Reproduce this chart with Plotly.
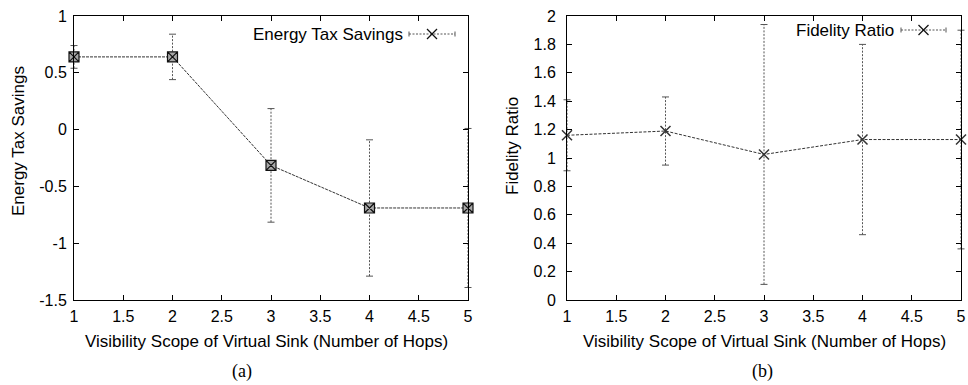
import plotly.graph_objects as go

# Visibility scope (hops) and measured results
hops = [1, 2, 3, 4, 5]

energy_savings = [0.64, 0.64, -0.315, -0.69, -0.69]
energy_err = [0.10, 0.20, 0.50, 0.60, 0.70]

fidelity_ratio = [1.16, 1.19, 1.025, 1.13, 1.13]
fidelity_err = [0.25, 0.24, 0.915, 0.67, 0.77]

x_ticks = [1, 1.5, 2, 2.5, 3, 3.5, 4, 4.5, 5]
x_ticktext = ["1", "1.5", "2", "2.5", "3", "3.5", "4", "4.5", "5"]
energy_ticks = [-1.5, -1, -0.5, 0, 0.5, 1]
energy_ticktext = ["-1.5", "-1", "-0.5", "0", "0.5", "1"]
fidelity_ticks = [0, 0.2, 0.4, 0.6, 0.8, 1, 1.2, 1.4, 1.6, 1.8, 2]
fidelity_ticktext = ["0", "0.2", "0.4", "0.6", "0.8", "1", "1.2", "1.4", "1.6", "1.8", "2"]

W, H = 968, 385
FONT = "Liberation Sans, Arial, sans-serif"
SERIF = "Liberation Serif, Times New Roman, serif"
LINE_COL = "#333333"
ERR_COL = "#555555"


def px(x):
    """Pixel x -> paper fraction."""
    return x / W


def py(y):
    """Pixel y (from top) -> paper fraction."""
    return 1 - y / H


def errbar_traces(xs, ys, errs, xa, ya):
    """Dashed vertical error bars with small end caps."""
    seg_x, seg_y, cap_x, cap_y = [], [], [], []
    for x, y, e in zip(xs, ys, errs):
        seg_x += [x, x, None]
        seg_y += [y - e, y + e, None]
        cap_x += [x, x]
        cap_y += [y - e, y + e]
    return [
        go.Scatter(x=seg_x, y=seg_y, mode="lines", xaxis=xa, yaxis=ya,
                   line=dict(color=ERR_COL, width=1, dash="2px,1.5px"),
                   cliponaxis=False, hoverinfo="skip", showlegend=False),
        go.Scatter(x=cap_x, y=cap_y, mode="markers", xaxis=xa, yaxis=ya,
                   marker=dict(symbol="line-ew", size=5,
                               line=dict(color=ERR_COL, width=1)),
                   cliponaxis=False, hoverinfo="skip", showlegend=False),
    ]


fig = go.Figure()

# (a) Energy tax savings
for t in errbar_traces(hops, energy_savings, energy_err, "x", "y"):
    fig.add_trace(t)
fig.add_trace(go.Scatter(
    x=hops, y=energy_savings, mode="lines+markers", xaxis="x", yaxis="y",
    line=dict(color=LINE_COL, width=1, dash="3px,1px"),
    marker=dict(symbol="square-x", size=10, color="#a8a8a8",
                line=dict(color="#111111", width=1.2)),
    cliponaxis=False, name="Energy Tax Savings", showlegend=False))

# (b) Fidelity ratio
for t in errbar_traces(hops, fidelity_ratio, fidelity_err, "x2", "y2"):
    fig.add_trace(t)
fig.add_trace(go.Scatter(
    x=hops, y=fidelity_ratio, mode="lines+markers", xaxis="x2", yaxis="y2",
    line=dict(color=LINE_COL, width=1, dash="3px,1.5px"),
    marker=dict(symbol="x-thin-open", size=10,
                line=dict(color="#111111", width=1.5)),
    cliponaxis=False, name="Fidelity Ratio", showlegend=False))

y_dom = [py(300), py(16)]
axis_common = dict(
    showline=True, linecolor="black", linewidth=1, mirror="allticks",
    ticks="inside", ticklen=5, tickwidth=1, tickcolor="black",
    showgrid=False, zeroline=False, automargin=False,
    tickfont=dict(family=FONT, size=16, color="black"),
)

fig.update_layout(
    width=W, height=H, autosize=False,
    margin=dict(l=0, r=0, t=0, b=0, pad=0, autoexpand=False),
    paper_bgcolor="white", plot_bgcolor="white",
    showlegend=False,
    xaxis=dict(domain=[px(74), px(468)], range=[1, 5], anchor="y",
               tickvals=x_ticks, ticktext=x_ticktext, ticklabelstandoff=2,
               **axis_common),
    yaxis=dict(domain=y_dom, range=[-1.5, 1], anchor="x",
               tickvals=energy_ticks, ticktext=energy_ticktext,
               ticklabelstandoff=3, **axis_common),
    xaxis2=dict(domain=[px(567), px(961)], range=[1, 5], anchor="y2",
                tickvals=x_ticks, ticktext=x_ticktext, ticklabelstandoff=2,
                **axis_common),
    yaxis2=dict(domain=y_dom, range=[0, 2], anchor="x2",
                tickvals=fidelity_ticks, ticktext=fidelity_ticktext,
                ticklabelstandoff=7, **axis_common),
)

annotations = []
shapes = []


def text(x, y, s, size=17, angle=0, xanchor="center", family=FONT):
    annotations.append(dict(
        x=px(x), y=py(y), xref="paper", yref="paper", text=s,
        showarrow=False, textangle=angle, xanchor=xanchor, yanchor="middle",
        font=dict(family=family, size=size, color="black")))


# Axis titles and panel captions
text(266, 341, "Visibility Scope of Virtual Sink (Number of Hops)")
text(764, 341, "Visibility Scope of Virtual Sink (Number of Hops)")
text(18, 141, "Energy Tax Savings", angle=-90)
text(512, 146, "Fidelity Ratio", angle=-90)
text(242, 371, "(a)", size=18, family=SERIF)
text(762, 371, "(b)", size=18, family=SERIF)


def legend_key(label, text_right, x0, x1, y):
    """Gnuplot-style key: label on the left, line sample with caps and an x mark."""
    text(text_right, y, label, xanchor="right")
    xm = (x0 + x1) / 2
    shapes.append(dict(type="line", xref="paper", yref="paper",
                       x0=px(x0), x1=px(x1), y0=py(y), y1=py(y),
                       line=dict(color=ERR_COL, width=1, dash="2px,1.5px")))
    for xc in (x0, x1):
        shapes.append(dict(type="line", xref="paper", yref="paper",
                           x0=px(xc), x1=px(xc), y0=py(y - 2.5), y1=py(y + 2.5),
                           line=dict(color=ERR_COL, width=1)))
    for d in (1, -1):
        shapes.append(dict(type="line", xref="paper", yref="paper",
                           x0=px(xm - 5), x1=px(xm + 5),
                           y0=py(y - 5 * d), y1=py(y + 5 * d),
                           line=dict(color="#111111", width=1.3)))


legend_key("Energy Tax Savings", 405, 409, 455, 34)
legend_key("Fidelity Ratio", 896, 901, 946, 30)

fig.update_layout(annotations=annotations, shapes=shapes)

fig.write_html("out.html")
